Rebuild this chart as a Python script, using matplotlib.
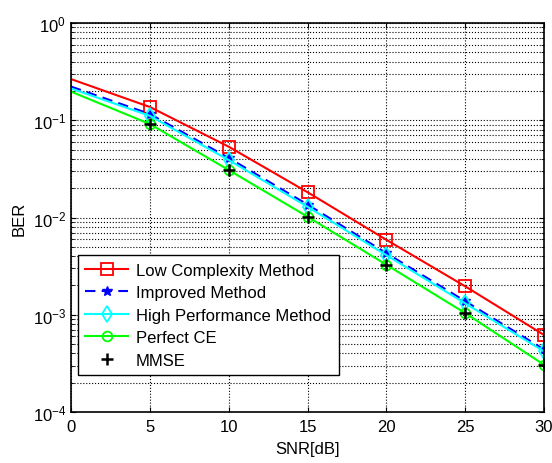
import numpy as np
import matplotlib.pyplot as plt

plt.rcParams['font.family'] = ['Liberation Sans', 'DejaVu Sans']
plt.rcParams['font.size'] = 12
plt.rcParams['mathtext.fontset'] = 'custom'
plt.rcParams['mathtext.rm'] = 'Liberation Sans'
plt.rcParams['mathtext.default'] = 'regular'

snr = [0, 5, 10, 15, 20, 25, 30]
ber_low = [0.265, 0.137, 0.0535, 0.0182, 0.0059, 0.00196, 0.00062]
ber_improved = [0.222, 0.116, 0.041, 0.0136, 0.0043, 0.00138, 0.00044]
ber_high = [0.212, 0.111, 0.039, 0.0129, 0.0041, 0.00131, 0.00042]
ber_perfect = [0.197, 0.0915, 0.0308, 0.0102, 0.00327, 0.00104, 0.000306]
ber_mmse = [0.0915, 0.0308, 0.0102, 0.00327, 0.00104, 0.000306]

fig = plt.figure(figsize=(5.52, 4.64), dpi=100)
ax = fig.add_axes([71/552, 1-413/464, (544-71)/552, (413-24)/464])

mk = slice(1, None)
ax.semilogy(snr, ber_low, color='red', lw=1.5, marker='s', ms=8, mfc='none', mew=1.3,
            markevery=mk, label='Low Complexity Method')
ax.semilogy(snr, ber_improved, color='blue', lw=1.5, ls='--', dashes=(5, 3), marker='*', ms=7,
            markevery=mk, label='Improved Method')
ax.semilogy(snr, ber_high, color='cyan', lw=1.5, marker='d', ms=8, mfc='none', mew=1.3,
            markevery=mk, label='High Performance Method')
ax.semilogy(snr, ber_perfect, color='lime', lw=1.5, marker='o', ms=7, mfc='none', mew=1.3,
            markevery=mk, label='Perfect CE')
ax.semilogy(snr[1:], ber_mmse, color='black', ls='none', marker='+', ms=9, mew=1.8, label='MMSE')

ax.set_xlim(0, 30)
ax.set_ylim(1e-4, 1)
ax.set_xticks([0, 5, 10, 15, 20, 25, 30])
ax.grid(True, which='major', ls=':', color='black', lw=0.8)
ax.grid(True, which='minor', axis='y', ls=':', color='black', lw=0.8)
ax.tick_params(which='both', direction='in', top=True, right=True, labelsize=12)
ax.tick_params(axis='x', pad=5)
for s in ax.spines.values():
    s.set_linewidth(1.2)

ax.set_xlabel('SNR[dB]', fontsize=12, labelpad=5)
ax.set_ylabel('BER', fontsize=12, labelpad=4)

leg = ax.legend(loc='lower left', bbox_to_anchor=(0.014, 0.095), fontsize=12, fancybox=False,
                framealpha=1, edgecolor='black', handlelength=2.6, borderpad=0.45,
                labelspacing=0.45, handletextpad=0.45, borderaxespad=0)
leg.get_frame().set_linewidth(1.0)

fig.savefig('out.png', dpi=100)
